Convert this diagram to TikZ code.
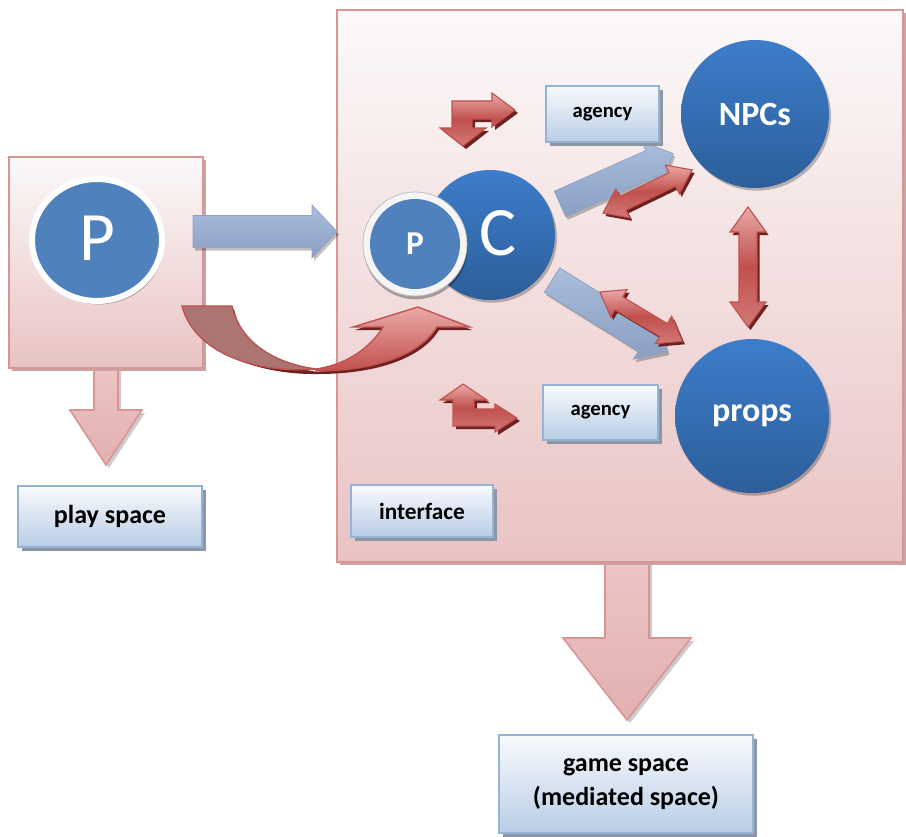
\documentclass[tikz,border=0pt]{standalone}
\usepackage{fontspec}
\setmainfont{Carlito}
\usetikzlibrary{shadows,shapes.geometric}
\definecolor{pinkB}{HTML}{D99594}
\definecolor{pinkT}{HTML}{FCF9F9}
\definecolor{pinkBot}{HTML}{E9C3C3}
\definecolor{frmS}{HTML}{C9A4A4}
\definecolor{boxB}{HTML}{95B3D7}
\definecolor{boxT}{HTML}{F8FAFD}
\definecolor{boxBot}{HTML}{B9CDE5}
\definecolor{shd}{HTML}{8E95A3}
\definecolor{cblue}{HTML}{4F81BD}
\definecolor{cT}{HTML}{3D7DCA}
\definecolor{cB}{HTML}{2C5E9A}
\definecolor{redA}{HTML}{C0504D}
\definecolor{redL}{HTML}{EAA9A7}
\definecolor{redM}{HTML}{D27A78}
\definecolor{redD}{HTML}{6E2120}
\definecolor{redBack}{HTML}{AB7572}
\definecolor{barrT}{HTML}{A9BEDD}
\definecolor{barrB}{HTML}{8A9FC2}
\definecolor{barrE}{HTML}{8EA2C2}
\definecolor{parrT}{HTML}{EDC6C5}
\definecolor{parrB}{HTML}{E2B0AF}
\newcommand\dblarrow[7]{% x y angle L hw sw hl
 \begin{scope}[shift={({#1+2.5},{#2+3})},rotate=#3]
   \fill[redD] (0,0) -- (#7,-#5) -- (#7,-#6) -- ({#4-#7},-#6) -- ({#4-#7},-#5) -- (#4,0) -- ({#4-#7},#5) -- ({#4-#7},#6) -- (#7,#6) -- (#7,#5) -- cycle;
 \end{scope}
 \begin{scope}[shift={(#1,#2)},rotate=#3]
   \path[redarr] (0,0) -- (#7,-#5) -- (#7,-#6) -- ({#4-#7},-#6) -- ({#4-#7},-#5) -- (#4,0) -- ({#4-#7},#5) -- ({#4-#7},#6) -- (#7,#6) -- (#7,#5) -- cycle;
 \end{scope}}
\newcommand\bluearrow[7]{% x y angle L sw hw hl
 \begin{scope}[shift={({#1+2},{#2+3})},rotate=#3]
   \fill[black,opacity=0.25] (0,-#5) -- ({#4-#7},-#5) -- ({#4-#7},-#6) -- (#4,0) -- ({#4-#7},#6) -- ({#4-#7},#5) -- (0,#5) -- cycle;
 \end{scope}
 \begin{scope}[shift={(#1,#2)},rotate=#3]
   \path[bluearr] (0,-#5) -- ({#4-#7},-#5) -- ({#4-#7},-#6) -- (#4,0) -- ({#4-#7},#6) -- ({#4-#7},#5) -- (0,#5) -- cycle;
 \end{scope}}
\begin{document}
\begin{tikzpicture}[x=0.75pt,y=-0.75pt,
  frm/.style={draw=pinkB,line width=1.6pt,top color=pinkT,bottom color=pinkBot},
  parr/.style={draw=pinkB,line width=1.2pt,top color=parrT,bottom color=parrB},
  lbl/.style={rectangle,draw=boxB,line width=1.5pt,top color=boxT,bottom color=boxBot,inner sep=0pt,align=center,
     drop shadow={shadow xshift=3pt,shadow yshift=-3pt,fill=shd,opacity=1}},
  ball/.style={circle,inner sep=0pt,top color=cT,bottom color=cB,
     drop shadow={shadow xshift=1.5pt,shadow yshift=-2pt,fill=black,opacity=0.25}},
  redarr/.style={draw=redA,line width=0.8pt,top color=redL,bottom color=redM,middle color=redA},
  bluearr/.style={draw=barrE,line width=0.5pt,top color=barrT,bottom color=barrB},
  wtext/.style={text=white,inner sep=0pt}]
\path[fill=white] (0,0) rectangle (906,836);
\useasboundingbox (0,0) rectangle (906,836);

% down block arrows
\fill[black,opacity=0.2] (97,360) -- (121,360) -- (121,413) -- (145,413) -- (109,468) -- (73,413) -- (97,413) -- cycle;
\path[parr] (94,360) -- (118,360) -- (118,410) -- (142,410) -- (106,465) -- (70,410) -- (94,410) -- cycle;
\fill[black,opacity=0.2] (608,555) -- (652,555) -- (652,641) -- (694,641) -- (630,723) -- (566,641) -- (608,641) -- cycle;
\path[parr] (605,555) -- (649,555) -- (649,638) -- (691,638) -- (627,720) -- (563,638) -- (605,638) -- cycle;

% frames
\fill[frmS] (12,160) rectangle (206,371);
\path[frm] (9,157) rectangle (203,368);
\fill[frmS] (340,13) rectangle (906,565);
\path[frm] (337,10) rectangle (903,562);

% big P
\node[ellipse,minimum width=97.5pt,minimum height=91.5pt,fill=cblue,draw=white,line width=4.5pt,
  drop shadow={shadow xshift=1.5pt,shadow yshift=-2.5pt,fill=black,opacity=0.3}] (bigp) at (97,240) {};
\node[wtext,font=\fontsize{52}{52}\selectfont] (bigptext) at (97,238) {P};

% blue arrows
\bluearrow{193}{231.5}{0}{144}{16}{26.5}{25}
\bluearrow{560}{204}{24}{124}{14}{24}{24}
\bluearrow{552}{280}{-32}{136}{14.5}{24}{25}

% curved arrow
\begin{scope}[shift={(2,3)}]
\fill[redD] (182,306) -- (232,306) .. controls (238,335) and (265,362) .. (316,369)
   .. controls (350,362) and (372,345) .. (383,327) -- (353,327) -- (418,307) -- (470,327) -- (437,327)
   .. controls (420,355) and (375,371) .. (316,371) .. controls (250,372) and (192,345) .. (182,306) -- cycle;
\end{scope}
\path[draw=redA,line width=1pt,fill=redBack] (182,306) -- (232,306) .. controls (238,335) and (265,362) .. (316,369)
   .. controls (260,374) and (195,355) .. (182,306) -- cycle;
\path[draw=redA,line width=1pt,top color=redL,bottom color=redA] (316,371) .. controls (375,371) and (420,355) .. (437,327)
   -- (470,327) -- (418,307) -- (353,327) -- (383,327) .. controls (372,345) and (350,364) .. (316,369) -- cycle;

% label boxes
\node[lbl,minimum width=138pt,minimum height=45.75pt,font=\bfseries\fontsize{19.5}{24}\selectfont] (play) at (110,516.5) {play space};
\node[lbl,minimum width=106.5pt,minimum height=39pt,font=\bfseries\fontsize{17.5}{21}\selectfont] (iface) at (422,511) {interface};
\node[lbl,minimum width=84.75pt,minimum height=42pt,font=\bfseries\fontsize{15.5}{19}\selectfont] (agtop) at (602.5,114) {agency};
\node[lbl,minimum width=86.25pt,minimum height=41.25pt,font=\bfseries\fontsize{15.5}{19}\selectfont] (agbot) at (600.5,412.5) {agency};
\node[lbl,minimum width=190.5pt,minimum height=73.5pt,font=\bfseries\fontsize{19.5}{26}\selectfont] (game) at (626,784) {game space\\(mediated space)};

% circles
\node[ball,minimum size=97.5pt] (c) at (490,235) {};
\node[wtext,font=\fontsize{52}{52}\selectfont] (ctext) at (498,233) {C};
\node[circle,minimum size=78pt,inner sep=0pt,fill=black!4,draw=black!25,line width=0.6pt,
  drop shadow={shadow xshift=0.5pt,shadow yshift=-2.5pt,fill=black,opacity=0.3}] (pring) at (415,244) {};
\node[circle,minimum size=67.5pt,inner sep=0pt,fill=cblue,text=white,font=\bfseries\fontsize{25}{25}\selectfont] (psmall) at (415,244) {P};
\node[ball,minimum size=111pt,text=white,font=\bfseries\fontsize{25.5}{26}\selectfont] (npcs) at (755,114) {NPCs};
\node[ball,minimum size=115.5pt,text=white,font=\bfseries\fontsize{25.5}{26}\selectfont] (props) at (752,416) {props};

% red double arrows
\dblarrow{603}{213}{25.8}{99}{16}{7.5}{22}
\dblarrow{600}{292}{-30.9}{96}{16}{7.5}{22}
\dblarrow{748}{207}{-90}{120}{18}{9}{25}

% bent double arrows
\fill[redD] (455,104) -- (495,104) -- (495,96) -- (518,113) -- (495,130) -- (495,122) -- (475,122) -- (475,131) -- (489,131) -- (466,149) -- (443,131) -- (455,131) -- cycle;
\path[redarr] (452,101) -- (492,101) -- (492,93) -- (515,110) -- (492,127) -- (492,119) -- (472,119) -- (472,128) -- (486,128) -- (463,146) -- (440,128) -- (452,128) -- cycle;
\fill[redD] (456,429) -- (498,429) -- (498,435) -- (520,421) -- (498,407) -- (498,412) -- (477,412) -- (477,403) -- (490,403) -- (466,387) -- (443,403) -- (456,403) -- cycle;
\path[redarr] (453,426) -- (495,426) -- (495,432) -- (517,418) -- (495,404) -- (495,409) -- (474,409) -- (474,400) -- (487,400) -- (463,384) -- (440,400) -- (453,400) -- cycle;
\end{tikzpicture}
\end{document}
